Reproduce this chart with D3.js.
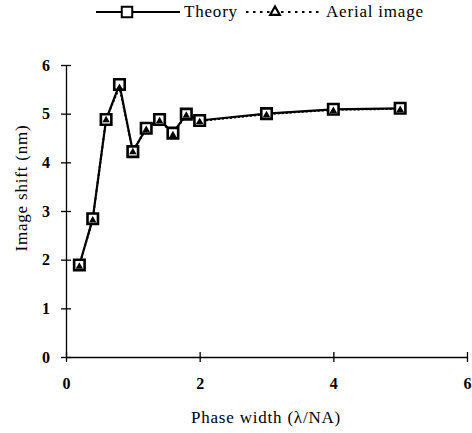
<!DOCTYPE html>
<html>
<head>
<meta charset="utf-8">
<script src="https://cdn.jsdelivr.net/npm/d3@7"></script>
<style>
  body { margin: 0; background: #fff; }
  svg text { font-family: "Liberation Serif", "Times New Roman", serif !important; fill: #000; }
</style>
</head>
<body>
<div id="chart"></div>
<script>
var phaseWidth = [0.2, 0.4, 0.6, 0.8, 1.0, 1.2, 1.4, 1.6, 1.8, 2.0, 3, 4, 5];
var theory = [1.89, 2.84, 4.88, 5.6, 4.22, 4.7, 4.88, 4.6, 4.99, 4.86, 5.0, 5.09, 5.11];
var aerial = [1.88, 2.83, 4.89, 5.55, 4.23, 4.69, 4.87, 4.58, 4.98, 4.85, 4.99, 5.08, 5.1];
var xTicks = [0, 2, 4, 6];
var yTicks = [0, 1, 2, 3, 4, 5, 6];

var width = 472, height = 433;
var margin = {left: 66, right: 5, top: 65, bottom: 76};
var serif = "'Liberation Serif', 'Times New Roman', serif";

var svg = d3.select("#chart").append("svg")
  .attr("width", width)
  .attr("height", height);

var x = d3.scaleLinear().domain([0, 6]).range([margin.left, width - margin.right]);
var y = d3.scaleLinear().domain([0, 6]).range([height - margin.bottom, margin.top]);

// axes
var xAxis = svg.append("g")
  .attr("transform", "translate(0," + y(0) + ")")
  .call(d3.axisBottom(x).tickValues(xTicks).tickFormat(d3.format("d"))
    .tickSizeInner(5).tickSizeOuter(0).tickPadding(16));
var yAxis = svg.append("g")
  .attr("transform", "translate(" + x(0) + ",0)")
  .call(d3.axisLeft(y).tickValues(yTicks).tickFormat(d3.format("d"))
    .tickSizeInner(5).tickSizeOuter(0).tickPadding(11));

[xAxis, yAxis].forEach(function(a) {
  a.attr("font-family", serif);
  a.select(".domain").attr("stroke", "#000").attr("stroke-width", 1.3);
  a.selectAll(".tick line").attr("stroke", "#000").attr("stroke-width", 1.3);
  a.selectAll(".tick text")
    .style("font-size", "16px")
    .style("font-weight", "bold")
    .attr("fill", "#000");
});
// ticks cross the axis
xAxis.selectAll(".tick line").attr("y1", -5).attr("y2", 5);
yAxis.selectAll(".tick line").attr("x1", -5).attr("x2", 5);

var line = d3.line()
  .x(function(d) { return x(d[0]); })
  .y(function(d) { return y(d[1]); });

var theoryPts = d3.zip(phaseWidth, theory);
var aerialPts = d3.zip(phaseWidth, aerial);

svg.append("path")
  .datum(aerialPts)
  .attr("d", line)
  .attr("fill", "none")
  .attr("stroke", "#000")
  .attr("stroke-width", 2)
  .attr("stroke-dasharray", "2,2");

svg.append("path")
  .datum(theoryPts)
  .attr("d", line)
  .attr("fill", "none")
  .attr("stroke", "#000")
  .attr("stroke-width", 2.2);

var sq = d3.symbol().type(d3.symbolSquare).size(110);
var tri = d3.symbol().type(d3.symbolTriangle).size(24);

svg.selectAll(".sq")
  .data(theoryPts)
  .enter().append("path")
  .attr("class", "sq")
  .attr("transform", function(d) { return "translate(" + x(d[0]) + "," + y(d[1]) + ")"; })
  .attr("d", sq)
  .attr("fill", "#fff")
  .attr("stroke", "#000")
  .attr("stroke-width", 2.6);

svg.selectAll(".tri")
  .data(aerialPts)
  .enter().append("path")
  .attr("class", "tri")
  .attr("transform", function(d) { return "translate(" + x(d[0]) + "," + (y(d[1]) + 1) + ")"; })
  .attr("d", tri)
  .attr("fill", "#000");

// axis titles
svg.append("text")
  .attr("x", 266)
  .attr("y", 423)
  .attr("text-anchor", "middle")
  .style("font-size", "17px")
  .style("letter-spacing", "0.8px")
  .text("Phase width (\u03bb/NA)");

svg.append("text")
  .attr("transform", "translate(27,188) rotate(-90)")
  .attr("text-anchor", "middle")
  .style("font-size", "17px")
  .style("letter-spacing", "0.8px")
  .text("Image shift (nm)");

// legend
var leg = svg.append("g").attr("transform", "translate(0,12)");
leg.append("line").attr("x1", 96).attr("x2", 180).attr("y1", 0).attr("y2", 0)
  .attr("stroke", "#000").attr("stroke-width", 2);
leg.append("path").attr("transform", "translate(127,0)").attr("d", sq)
  .attr("fill", "#fff").attr("stroke", "#000").attr("stroke-width", 2);
leg.append("text").attr("x", 184).attr("y", 5).style("font-size", "17px")
  .style("letter-spacing", "0.8px").text("Theory");
leg.append("line").attr("x1", 246).attr("x2", 322).attr("y1", 0).attr("y2", 0)
  .attr("stroke", "#000").attr("stroke-width", 2.2).attr("stroke-dasharray", "2.5,4.5");
leg.append("path").attr("transform", "translate(275,0)").attr("d", d3.symbol().type(d3.symbolTriangle).size(40))
  .attr("fill", "#fff").attr("stroke", "#000").attr("stroke-width", 2.2);
leg.append("text").attr("x", 326).attr("y", 5).style("font-size", "17px")
  .style("letter-spacing", "0.8px").text("Aerial image");
</script>
</body>
</html>
